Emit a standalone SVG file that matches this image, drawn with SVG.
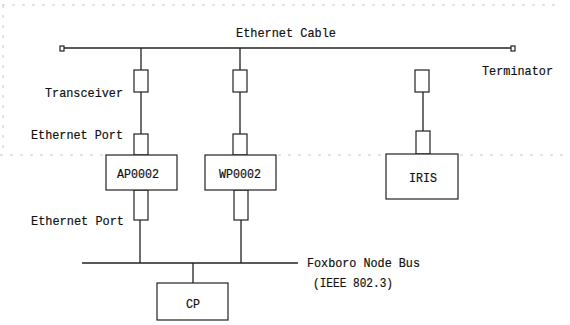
<svg xmlns="http://www.w3.org/2000/svg" width="570" height="325" viewBox="0 0 570 325">
<style>
.t{font-family:"Liberation Mono","DejaVu Sans Mono",monospace;font-size:13px;fill:#111;stroke:#111;stroke-width:0.2}
.b{fill:#fff;stroke:#222;stroke-width:1.2}
.l{stroke:#222;stroke-width:1.3;fill:none}
.f{stroke:#c8c8c8;stroke-width:1;stroke-dasharray:3 7;fill:none}
</style>
<rect width="570" height="325" fill="#fff"/>
<g id="scan-edges">
<path class="f" d="M2 5H560M3 5V150M0 155H105M278 155H386M460 155H570"/>
</g>
<g id="connectors">
<path class="l" d="M64 48H511"/>
<path class="l" d="M141 48V70M141 92V134M140 220V263"/>
<path class="l" d="M240 48V70M240 92V134M241 220V263"/>
<path class="l" d="M423 92V131"/>
<path class="l" d="M82 263H298"/>
<path class="l" d="M193 263V283"/>
</g>
<g id="terminator-left"><rect class="b" x="60" y="46" width="4" height="5"/></g>
<g id="terminator-right"><rect class="b" x="511" y="46" width="4" height="5"/></g>
<g id="transceiver-1"><rect class="b" x="134" y="70" width="14" height="22"/></g>
<g id="transceiver-2"><rect class="b" x="233" y="70" width="14" height="22"/></g>
<g id="transceiver-3"><rect class="b" x="415" y="70" width="14" height="22"/></g>
<g id="port-1"><rect class="b" x="134" y="134" width="14" height="21"/></g>
<g id="port-2"><rect class="b" x="233" y="134" width="14" height="21"/></g>
<g id="port-3"><rect class="b" x="416" y="131" width="14" height="23"/></g>
<g id="port-1b"><rect class="b" x="134" y="190" width="14" height="30"/></g>
<g id="port-2b"><rect class="b" x="234" y="190" width="14" height="30"/></g>
<g id="ap0002"><rect class="b" x="106" y="155" width="71" height="35"/><text class="t" x="138" y="178" text-anchor="middle" textLength="42" lengthAdjust="spacingAndGlyphs">AP0002</text></g>
<g id="wp0002"><rect class="b" x="205" y="155" width="71" height="35"/><text class="t" x="240" y="178" text-anchor="middle" textLength="42" lengthAdjust="spacingAndGlyphs">WP0002</text></g>
<g id="iris"><rect class="b" x="386" y="154" width="72" height="45"/><text class="t" x="423" y="182" text-anchor="middle" textLength="28" lengthAdjust="spacingAndGlyphs">IRIS</text></g>
<g id="cp"><rect class="b" x="157" y="283" width="71" height="37"/><text class="t" x="193" y="308" text-anchor="middle" textLength="14" lengthAdjust="spacingAndGlyphs">CP</text></g>
<g id="labels">
<text class="t" x="236" y="37" textLength="100" lengthAdjust="spacingAndGlyphs">Ethernet Cable</text>
<text class="t" x="482" y="75" textLength="71" lengthAdjust="spacingAndGlyphs">Terminator</text>
<text class="t" x="45" y="97" textLength="78" lengthAdjust="spacingAndGlyphs">Transceiver</text>
<text class="t" x="31" y="139" textLength="92" lengthAdjust="spacingAndGlyphs">Ethernet Port</text>
<text class="t" x="31" y="225" textLength="93" lengthAdjust="spacingAndGlyphs">Ethernet Port</text>
<text class="t" x="307" y="267" textLength="113" lengthAdjust="spacingAndGlyphs">Foxboro Node Bus</text>
<text class="t" x="313" y="287" textLength="80" lengthAdjust="spacingAndGlyphs">(IEEE 802.3)</text>
</g>
</svg>
